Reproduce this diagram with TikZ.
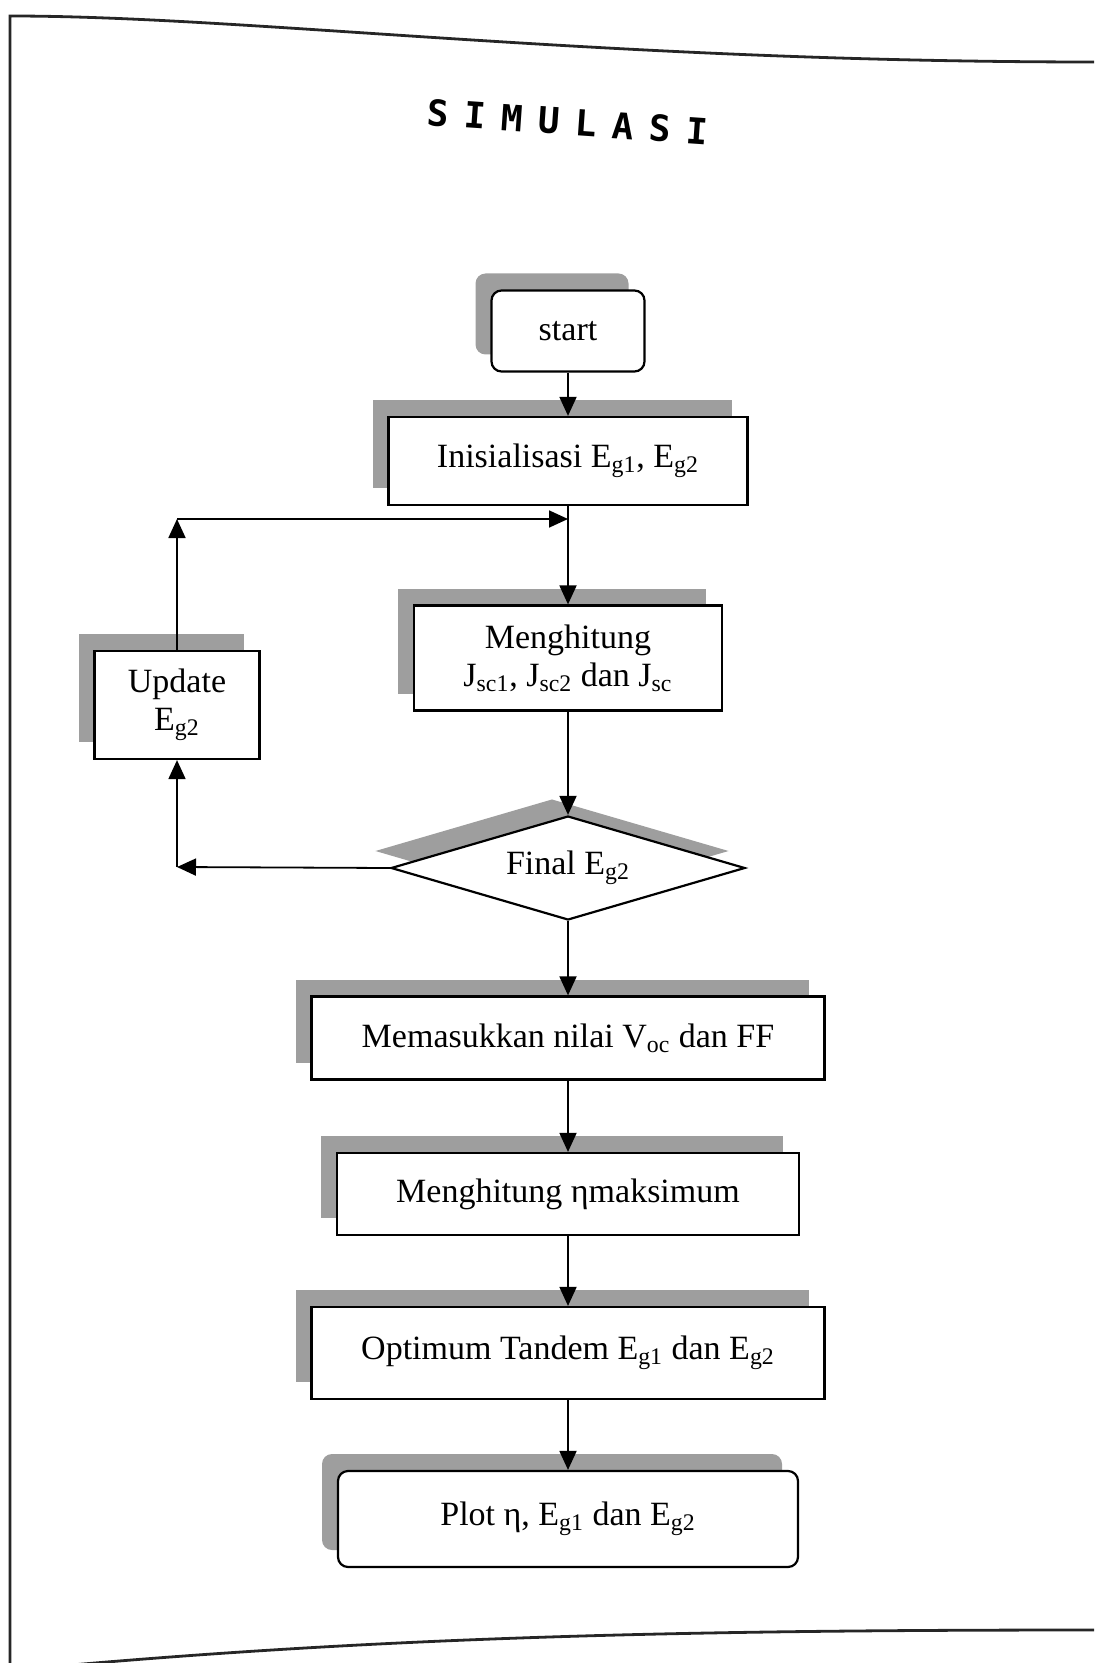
\documentclass[tikz,border=0pt]{standalone}
\usepackage{fontspec}
\setmainfont{Liberation Serif}
\newfontfamily\titlefont{DejaVu Sans Mono}
\usetikzlibrary{arrows.meta,shapes.geometric,shadows}
\newcommand{\sbs}[1]{\textsubscript{#1}}
\begin{document}
\begin{tikzpicture}[x=0.5pt,y=-0.5pt,
  box/.style={draw=black,line width=1.1pt,fill=white,font=\fontsize{17}{19}\selectfont,
    align=center,inner sep=0pt,
    general shadow={fill=black!38,shadow xshift=-8pt,shadow yshift=8.5pt}},
  rbox/.style={box,rounded corners=5pt},
  dec/.style={box,diamond,aspect=3.4},
  conn/.style={line width=0.9pt,-{Triangle[length=9.5pt,width=8.5pt]}},
  frame/.style={line width=1.4pt,black!85},
  ttl/.style={font=\titlefont\bfseries\fontsize{18}{18}\selectfont,rotate=-4,inner sep=0pt}]
\useasboundingbox (0,0) rectangle (1094,1663);
% frame
\draw[frame] (10,1663) -- (10,16) .. controls (250,16) and (600,62) .. (1094,62);
\draw[frame] (60,1666) .. controls (400,1636) and (700,1630) .. (1094,1630);
% title
\foreach \c [count=\i from 0] in {S,I,M,U,L,A,S,I}
  \node[ttl] (t\i) at ({438+\i*37},{113+\i*2.6}) {\c};
% nodes
\node[rbox,minimum width=76.5pt,minimum height=40.5pt] (start) at (568,331) {start};
\node[box,minimum width=179.5pt,minimum height=44pt] (init) at (568,461) {Inisialisasi E\sbs{g1}, E\sbs{g2}};
\node[box,minimum width=154pt,minimum height=52.5pt] (hit) at (568,658) {Menghitung\\J\sbs{sc1}, J\sbs{sc2} dan J\sbs{sc}};
\node[box,minimum width=82.5pt,minimum height=54pt] (upd) at (177,705) {Update\\E\sbs{g2}};
\node[dec,minimum width=177pt,minimum height=52pt] (dec) at (568,868) {Final E\sbs{g2}};
\node[box,minimum width=256.5pt,minimum height=41.5pt] (mem) at (568,1038) {Memasukkan nilai V\sbs{oc} dan FF};
\node[box,minimum width=231pt,minimum height=41pt] (eta) at (568,1194) {Menghitung ηmaksimum};
\node[box,minimum width=256.5pt,minimum height=46pt] (opt) at (568,1353) {Optimum Tandem E\sbs{g1} dan E\sbs{g2}};
\node[rbox,minimum width=230pt,minimum height=48pt] (plot) at (568,1519) {Plot η, E\sbs{g1} dan E\sbs{g2}};
% junctions
\coordinate (lt) at (177,519);
\coordinate (lj) at (568,519);
\coordinate (lb) at (177,867);
% connectors
\draw[conn] (start.south) -- (init.north);
\draw[conn] (init.south) -- (hit.north);
\draw[conn] (upd.north) -- (lt);
\draw[conn] (lt) -- (lj);
\draw[conn] (hit.south) -- (dec.north);
\draw[conn] (dec.west) -- (lb);
\draw[conn] (lb) -- (upd.south);
\draw[conn] (dec.south) -- (mem.north);
\draw[conn] (mem.south) -- (eta.north);
\draw[conn] (eta.south) -- (opt.north);
\draw[conn] (opt.south) -- (plot.north);
\end{tikzpicture}
\end{document}
